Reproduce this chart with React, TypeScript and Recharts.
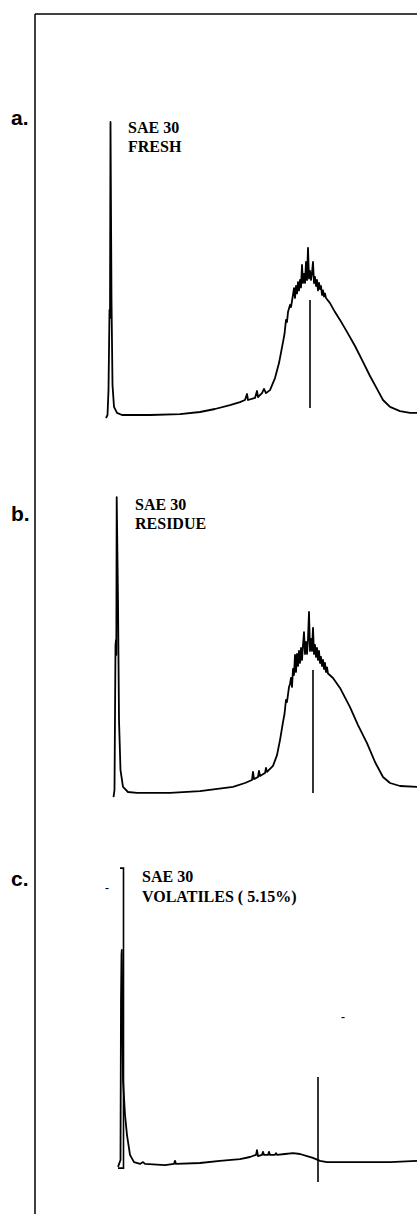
import { Line, LineChart, ReferenceLine, XAxis, YAxis } from 'recharts'

// retention time (min) vs detector response (% of full scale)
type Pt = { t: number; v: number }

const freshTrace: Pt[] = [
  { t: 0.2, v: 0 }, { t: 0.5, v: 1 }, { t: 0.7, v: 9.3 }, { t: 0.9, v: 36 },
  { t: 1.0, v: 33.3 }, { t: 1.1, v: 98.7 }, { t: 1.3, v: 39.3 }, { t: 1.5, v: 11 },
  { t: 1.8, v: 3.7 }, { t: 2.4, v: 1.7 }, { t: 3.4, v: 1 }, { t: 9, v: 1 },
  { t: 15, v: 1.3 }, { t: 19, v: 2 }, { t: 22, v: 3 }, { t: 25, v: 4.3 },
  { t: 27, v: 5.3 }, { t: 28, v: 6 }, { t: 28.4, v: 8 }, { t: 28.6, v: 6 },
  { t: 30, v: 6.7 }, { t: 30.4, v: 9 }, { t: 30.6, v: 7 }, { t: 31.4, v: 8.3 },
  { t: 31.8, v: 9.7 }, { t: 32.2, v: 8.3 }, { t: 33, v: 9.3 }, { t: 34, v: 13.3 },
  { t: 34.8, v: 18.3 }, { t: 35.6, v: 25.3 }, { t: 35.9, v: 28 }, { t: 36.2, v: 32.7 },
  { t: 36.4, v: 32 }, { t: 36.6, v: 35.3 }, { t: 37, v: 37.7 }, { t: 37.2, v: 37 },
  { t: 37.4, v: 39 }, { t: 37.6, v: 41 }, { t: 37.8, v: 43.3 }, { t: 38.0, v: 40 },
  { t: 38.2, v: 44 }, { t: 38.4, v: 41.5 }, { t: 38.6, v: 45.3 }, { t: 38.8, v: 42.5 },
  { t: 39.0, v: 46 }, { t: 39.2, v: 43.5 }, { t: 39.4, v: 51 }, { t: 39.6, v: 45 },
  { t: 39.8, v: 48 }, { t: 40.0, v: 45 }, { t: 40.2, v: 52 }, { t: 40.4, v: 46 },
  { t: 40.6, v: 56.7 }, { t: 40.8, v: 46.5 }, { t: 41.0, v: 49 }, { t: 41.2, v: 46 },
  { t: 41.4, v: 48.5 }, { t: 41.6, v: 52 }, { t: 41.8, v: 45 }, { t: 42.0, v: 47 },
  { t: 42.2, v: 44 }, { t: 42.4, v: 46 }, { t: 42.6, v: 42.5 }, { t: 42.8, v: 45 },
  { t: 43.0, v: 43 }, { t: 43.2, v: 44 }, { t: 43.4, v: 41 }, { t: 43.6, v: 42.5 },
  { t: 43.8, v: 40.5 }, { t: 44.0, v: 41.5 }, { t: 44.2, v: 40 }, { t: 45, v: 38.3 },
  { t: 46, v: 35.3 }, { t: 47, v: 32.7 }, { t: 48.4, v: 28.7 }, { t: 50, v: 24 },
  { t: 51.6, v: 18.7 }, { t: 53, v: 14 }, { t: 54.4, v: 9.7 }, { t: 55.6, v: 6 },
  { t: 57, v: 3.7 }, { t: 59, v: 2.3 }, { t: 61, v: 1.7 }, { t: 62.4, v: 1.7 },
]

const residueTrace: Pt[] = [
  { t: 1.7, v: -0.7 }, { t: 1.9, v: 1.7 }, { t: 2.1, v: 50 }, { t: 2.2, v: 51.7 },
  { t: 2.26, v: 46.7 }, { t: 2.34, v: 99.3 }, { t: 2.6, v: 65 }, { t: 2.8, v: 25 },
  { t: 3.1, v: 8.3 }, { t: 3.6, v: 2.7 }, { t: 4.6, v: 1 }, { t: 6.4, v: 0.7 },
  { t: 13, v: 0.7 }, { t: 19, v: 1.3 }, { t: 25.6, v: 2.7 }, { t: 28, v: 4 },
  { t: 29.4, v: 5 }, { t: 29.6, v: 7.7 }, { t: 29.8, v: 5.3 }, { t: 30.6, v: 6 },
  { t: 30.8, v: 8 }, { t: 31, v: 6.3 }, { t: 32, v: 7.3 }, { t: 32.2, v: 9 },
  { t: 32.4, v: 7.7 }, { t: 33.6, v: 9.7 }, { t: 34.4, v: 13.3 }, { t: 35, v: 18.3 },
  { t: 35.6, v: 24.3 }, { t: 35.9, v: 27 }, { t: 36.2, v: 31.7 }, { t: 36.4, v: 31 },
  { t: 36.8, v: 36 }, { t: 37.0, v: 37 }, { t: 37.2, v: 39 }, { t: 37.4, v: 36 },
  { t: 37.6, v: 42 }, { t: 37.8, v: 40 }, { t: 38.0, v: 46.7 }, { t: 38.2, v: 41 },
  { t: 38.4, v: 47 }, { t: 38.6, v: 43 }, { t: 38.8, v: 48 }, { t: 39.0, v: 44 },
  { t: 39.2, v: 49 }, { t: 39.4, v: 45 }, { t: 39.6, v: 50 }, { t: 39.8, v: 54.3 },
  { t: 40.0, v: 47 }, { t: 40.2, v: 51 }, { t: 40.4, v: 47 }, { t: 40.6, v: 52 },
  { t: 40.8, v: 61 }, { t: 41.0, v: 48 }, { t: 41.2, v: 52 }, { t: 41.4, v: 48 },
  { t: 41.6, v: 55.7 }, { t: 41.8, v: 47 }, { t: 42.0, v: 50 }, { t: 42.2, v: 46 },
  { t: 42.4, v: 49 }, { t: 42.6, v: 45 }, { t: 42.8, v: 48 }, { t: 43.0, v: 44 },
  { t: 43.2, v: 46 }, { t: 43.4, v: 43 }, { t: 43.6, v: 45 }, { t: 43.8, v: 42 },
  { t: 44.0, v: 44 }, { t: 44.2, v: 41 }, { t: 44.4, v: 42.5 }, { t: 44.6, v: 40.5 },
  { t: 45.6, v: 39 }, { t: 47, v: 35.7 }, { t: 49, v: 29.3 }, { t: 50.6, v: 23.3 },
  { t: 52.4, v: 17.3 }, { t: 54, v: 11 }, { t: 55.6, v: 6 }, { t: 57, v: 4 },
  { t: 59, v: 3 }, { t: 62.4, v: 2.7 },
]

const volatilesTrace: Pt[] = [
  { t: 2.6, v: -0.3 }, { t: 3.1, v: 2 }, { t: 3.2, v: 55.3 }, { t: 3.3, v: 70.3 },
  { t: 3.36, v: 72 }, { t: 3.44, v: 58.7 }, { t: 3.6, v: 28.7 }, { t: 4, v: 17 },
  { t: 4.4, v: 10.3 }, { t: 5, v: 3.7 }, { t: 5.8, v: 1.3 }, { t: 7, v: 0.7 },
  { t: 7.6, v: 1.3 }, { t: 8, v: 0.7 }, { t: 12, v: 0.3 }, { t: 13.8, v: 0.7 },
  { t: 14, v: 1.7 }, { t: 14.2, v: 0.7 }, { t: 19, v: 1 }, { t: 23, v: 1.7 },
  { t: 27, v: 2.3 }, { t: 29, v: 3 }, { t: 30.2, v: 3.7 }, { t: 30.4, v: 5.3 },
  { t: 30.6, v: 3.3 }, { t: 31.4, v: 3.7 }, { t: 31.6, v: 4.7 }, { t: 31.8, v: 3.7 },
  { t: 32.6, v: 3.7 }, { t: 32.8, v: 4.7 }, { t: 33, v: 3.7 }, { t: 34, v: 3.7 },
  { t: 34.2, v: 4.3 }, { t: 34.4, v: 3.7 }, { t: 36, v: 4 }, { t: 37.6, v: 4.3 },
  { t: 39, v: 4 }, { t: 40.4, v: 3.3 }, { t: 41.6, v: 2.7 }, { t: 43, v: 1.7 },
  { t: 44.4, v: 1.3 }, { t: 47, v: 1.3 }, { t: 52.4, v: 1.3 }, { t: 57, v: 1.3 },
  { t: 62.4, v: 1.7 },
]

// attenuation bracket at the solvent peak of trace c
const volatilesBracket: Pt[] = [
  { t: 3.0, v: 99.3 }, { t: 3.7, v: 99.3 }, { t: 3.7, v: -0.7 }, { t: 2.6, v: -0.7 },
]

// marker ticks: [time, top, bottom]
const freshMarker = [41, 39.3, 3.3]
const residueMarker = [41.6, 41.7, 0.7]
const volatilesMarker = [42.6, 29.7, -5.3]

const X_DOMAIN: [number, number] = [0, 62.4]
const Y_DOMAIN: [number, number] = [-10, 100]

type PanelProps = {
  top: number
  trace: Pt[]
  marker: number[]
  extra?: Pt[]
}

function Panel({ top, trace, marker, extra }: PanelProps) {
  return (
    <div style={{ position: 'absolute', left: 105, top }}>
      <LineChart width={312} height={330} margin={{ top: 0, right: 0, bottom: 0, left: 0 }}>
        <XAxis type="number" dataKey="t" domain={X_DOMAIN} hide allowDataOverflow />
        <YAxis type="number" dataKey="v" domain={Y_DOMAIN} hide allowDataOverflow />
        <Line
          data={trace}
          dataKey="v"
          type="linear"
          stroke="#000"
          strokeWidth={1.8}
          strokeLinejoin="round"
          dot={false}
          isAnimationActive={false}
        />
        {extra && (
          <Line
            data={extra}
            dataKey="v"
            type="linear"
            stroke="#000"
            strokeWidth={1.6}
            dot={false}
            isAnimationActive={false}
          />
        )}
        <ReferenceLine
          segment={[
            { x: marker[0], y: marker[1] },
            { x: marker[0], y: marker[2] },
          ]}
          stroke="#000"
          strokeWidth={1.6}
          ifOverflow="visible"
        />
      </LineChart>
    </div>
  )
}

const serif = '"Liberation Serif", "Times New Roman", serif'
const sans = '"Liberation Sans", Arial, sans-serif'

export default function App() {
  return (
    <div style={{ position: 'absolute', left: 0, top: 0, width: 417, height: 1214, background: '#fff', overflow: 'hidden' }}>
      <Panel top={118} trace={freshTrace} marker={freshMarker} />
      <Panel top={495} trace={residueTrace} marker={residueMarker} />
      <Panel top={866} trace={volatilesTrace} marker={volatilesMarker} extra={volatilesBracket} />

      <svg width={417} height={1214} style={{ position: 'absolute', left: 0, top: 0, pointerEvents: 'none' }}>
        <line x1={35} y1={14} x2={417} y2={14} stroke="#000" strokeWidth={1.5} />
        <line x1={35} y1={14} x2={35} y2={1214} stroke="#000" strokeWidth={1.5} />

        <g fontFamily={sans} fontWeight="bold" fontSize={21} fill="#000">
          <text x={11} y={125}>a.</text>
          <text x={11} y={521}>b.</text>
          <text x={11} y={886}>c.</text>
        </g>

        <g fontFamily={serif} fontWeight="bold" fontSize={16} fill="#000">
          <text x={128} y={133}>SAE 30</text>
          <text x={128} y={152}>FRESH</text>
          <text x={135} y={510}>SAE 30</text>
          <text x={135} y={529}>RESIDUE</text>
          <text x={142} y={882}>SAE 30</text>
          <text x={142} y={902}>VOLATILES ( 5.15%)</text>
          <text x={105} y={892} fontSize={12}>-</text>
          <text x={341} y={1021} fontSize={12}>-</text>
        </g>
      </svg>
    </div>
  )
}
